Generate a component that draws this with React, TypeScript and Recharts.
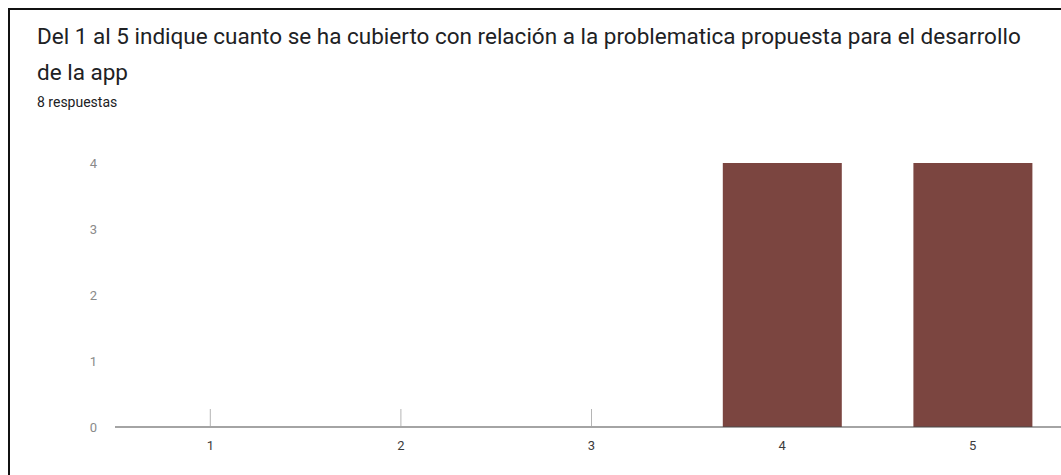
import { BarChart, Bar, XAxis, YAxis } from "recharts";

const categories = ["1", "2", "3", "4", "5"];
const counts = [0, 0, 0, 4, 4];
const yTicks = [0, 1, 2, 3, 4];

const title =
  "Del 1 al 5 indique cuanto se ha cubierto con relación a la problematica propuesta para el desarrollo de la app";
const subtitle = "8 respuestas";

const data = categories.map((c, i) => ({ name: c, value: counts[i] }));

// tick label plus the small upward mark Forms draws at each empty category
function CategoryTick(props: any) {
  const { x, y, payload, index } = props;
  const axisY = y - 14;
  const showMark = counts[index] === 0;
  return (
    <g>
      {showMark && <line x1={x} x2={x} y1={axisY - 18} y2={axisY - 1} stroke="#b5b5b5" strokeWidth={1} />}
      <text x={x} y={y} dy="0.71em" textAnchor="middle" fontSize={13} fill="#3c3c3c" fontFamily="Roboto, sans-serif">
        {payload.value}
      </text>
    </g>
  );
}

export default function App() {
  return (
    <div
      style={{
        position: "fixed",
        left: 8,
        top: 8,
        width: 1060,
        height: 470,
        overflow: "hidden",
        borderTop: "2px solid #111",
        borderLeft: "2px solid #111",
        boxSizing: "border-box",
        background: "#fff",
        fontFamily: "Roboto, sans-serif",
        color: "#202124",
      }}
    >
      <div style={{ position: "absolute", left: 27, top: 8, width: 998, fontSize: 22.5, lineHeight: "36px" }}>
        {title}
      </div>
      <div style={{ position: "absolute", left: 27, top: 82, fontSize: 14, lineHeight: "20px", color: "#202124" }}>
        {subtitle}
      </div>
      <div style={{ position: "absolute", left: 0, top: 140 }}>
        <BarChart width={1070} height={325} data={data} margin={{ top: 13, right: 12, left: 0, bottom: 18 }}>
          <XAxis
            dataKey="name"
            tickLine={false}
            tickSize={6}
            tickMargin={8}
            height={30}
            axisLine={{ stroke: "#4a4a4a", strokeWidth: 1.2 }}
            tick={<CategoryTick />}
          />
          <YAxis
            width={105}
            domain={[0, 4]}
            ticks={yTicks}
            axisLine={false}
            tickLine={false}
            tickMargin={12}
            tick={{ fontSize: 13, fill: "#8a8a8a", fontFamily: "Roboto, sans-serif" }}
          />
          <Bar dataKey="value" fill="#7b4540" barSize={119} isAnimationActive={false} />
        </BarChart>
      </div>
    </div>
  );
}
